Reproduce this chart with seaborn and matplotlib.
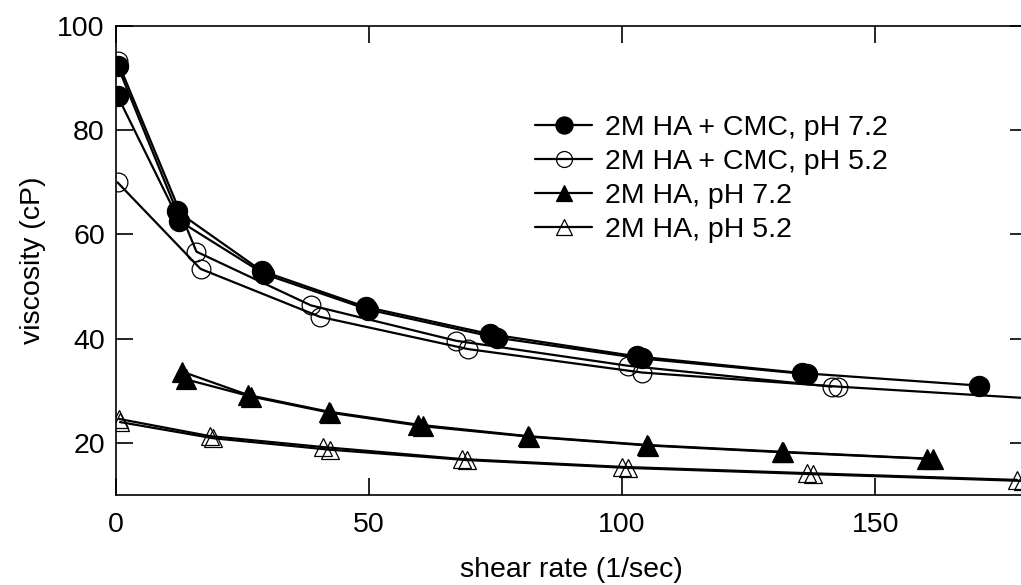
import matplotlib
matplotlib.use("Agg")
import seaborn as sns
import matplotlib.pyplot as plt
import pandas as pd
from matplotlib.lines import Line2D

# --- data: two replicate runs per sample ---
labels = ["2M HA + CMC, pH 7.2", "2M HA + CMC, pH 5.2", "2M HA, pH 7.2", "2M HA, pH 5.2"]

cmc72_a_x = [0.3, 12.0, 28.8, 49.3, 73.8, 102.9, 135.5, 170.6]
cmc72_a_y = [92.4, 64.5, 53.0, 46.1, 40.9, 36.6, 33.4, 31.0]
cmc72_b_x = [0.3, 12.5, 29.3, 49.8, 75.2, 103.9, 136.5]
cmc72_b_y = [86.6, 62.6, 52.4, 45.6, 40.2, 36.2, 33.2]

cmc52_a_x = [0.3, 15.9, 38.5, 67.2, 101.2, 141.4]
cmc52_a_y = [93.3, 56.7, 46.4, 39.6, 34.8, 30.8]
cmc52_b_x = [0.3, 16.7, 40.3, 69.6, 104.0, 142.7, 190.0]
cmc52_b_y = [70.0, 53.4, 44.2, 38.0, 33.5, 30.8, 28.0]

ha72_a_x = [13.0, 26.1, 42.0, 59.7, 81.4, 105.0, 131.5, 160.2]
ha72_a_y = [33.7, 29.2, 26.0, 23.5, 21.3, 19.6, 18.3, 17.0]
ha72_b_x = [13.8, 26.7, 42.3, 60.7, 81.6, 105.2, 131.7, 161.5]
ha72_b_y = [32.2, 28.9, 25.8, 23.2, 21.2, 19.5, 18.2, 16.9]

ha52_a_x = [0.6, 18.6, 41.0, 68.4, 100.0, 136.5, 178.0]
ha52_a_y = [24.6, 21.3, 19.2, 16.9, 15.4, 14.2, 12.9]
ha52_b_x = [0.8, 19.2, 42.2, 69.4, 101.2, 137.8, 179.3]
ha52_b_y = [24.0, 20.9, 18.7, 16.7, 15.2, 14.0, 12.7]


def runs(ax_, ay_, bx_, by_):
    return pd.DataFrame({
        "shear": ax_ + bx_,
        "visc": ay_ + by_,
        "run": ["a"] * len(ax_) + ["b"] * len(bx_),
    })


series = [
    (runs(cmc72_a_x, cmc72_a_y, cmc72_b_x, cmc72_b_y), "o", "black", 14.5),
    (runs(cmc52_a_x, cmc52_a_y, cmc52_b_x, cmc52_b_y), "o", "none", 13.5),
    (runs(ha72_a_x, ha72_a_y, ha72_b_x, ha72_b_y), "^", "black", 14),
    (runs(ha52_a_x, ha52_a_y, ha52_b_x, ha52_b_y), "^", "none", 13.5),
]

sns.set_style("ticks")
plt.rcParams["font.family"] = ["Liberation Sans", "DejaVu Sans"]
for k in ["text.color", "axes.labelcolor", "xtick.color", "ytick.color",
          "axes.edgecolor"]:
    plt.rcParams[k] = "black"

fig = plt.figure(figsize=(10.21, 5.85), dpi=100)
ax = fig.add_axes([0.1136, 0.1538, 0.8923, 0.8017])

for df, mk, fc, ms in series:
    sns.lineplot(data=df, x="shear", y="visc", units="run", estimator=None,
                 color="black", linewidth=1.6, marker=mk, markersize=ms,
                 markerfacecolor=fc, markeredgecolor="black",
                 markeredgewidth=0.9, ax=ax, legend=False)

ax.set_xlim(0, 180)
ax.set_ylim(10, 100)
ax.set_xticks([0, 50, 100, 150])
ax.set_yticks([20, 40, 60, 80, 100])
ax.set_xlabel("shear rate (1/sec)", fontsize=20.5, labelpad=14)
ax.set_ylabel("viscosity (cP)", fontsize=20.5, labelpad=8)
ax.tick_params(direction="in", length=12, width=1.2, labelsize=20.5,
               top=True, right=True, color="black", labelcolor="black")
ax.tick_params(axis="x", pad=12)
ax.tick_params(axis="y", pad=8)
for s in ax.spines.values():
    s.set_color("black")
    s.set_linewidth(1.2)

handles = [
    Line2D([], [], color="black", lw=1.6, marker=mk, markersize=ms,
           markerfacecolor=fc, markeredgecolor="black", markeredgewidth=0.9)
    for _, mk, fc, ms in series
]
ax.legend(handles, labels, loc="upper left", bbox_to_anchor=(0.46, 0.81),
          frameon=False, fontsize=20.5, handlelength=2.0, handletextpad=0.45,
          labelspacing=0.28, borderpad=0, borderaxespad=0, markerscale=0.85)

fig.savefig("out.png", dpi=100)
